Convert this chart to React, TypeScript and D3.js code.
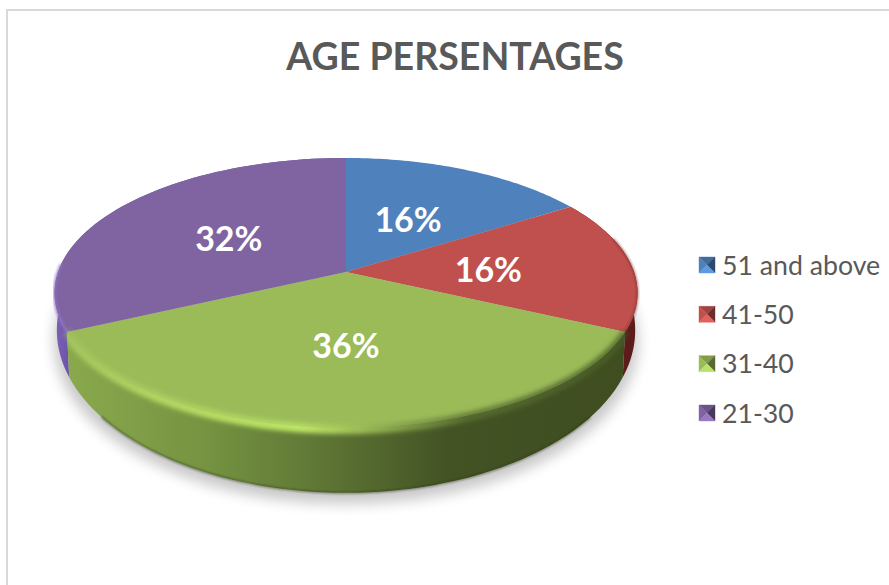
import React from 'react';
import * as d3 from 'd3';

const categories = ['51 and above', '41-50', '31-40', '21-30'];
const values = [16, 16, 36, 32];
const faceColors = ['#4f81bd', '#c0504d', '#9bbb59', '#8064a2'];
const sideLight = ['#4f81bd', '#8f3030', '#8aa94d', '#7c62b6'];
const sideDark = ['#2c4d75', '#5c1c1c', '#3f4d20', '#6a52a8'];
const labelShare = [0.508, 0.5, 0.47, 0.522];
const labelNudge = [11.6, 14, 13, 13];

const width = 889;
const height = 585;
const cx = 346;
const cy = 272;
const R = 288;
const S = 131.7;
const k = 0.155;

// circle seen in perspective, front edge is closer so it gets bigger
const project = (a: number): [number, number] => {
  const u = Math.sin(a);
  const v = -Math.cos(a);
  const w = 1 - k * v;
  return [cx + (R * u) / w, cy + (S * v) / w];
};

// lower rim of the disc
const projectLow = (a: number): [number, number] => {
  const [x, y] = project(a);
  const v = (y - cy) / S;
  return [cx + (x - cx) * 0.992, y + 33 + 27 * v];
};

const slices = d3.pie<number>().sort(null).value(d => d)(values);
const line = d3.line();

const arcPoints = (a0: number, a1: number, fn: (a: number) => [number, number]) =>
  d3.range(0, 61).map(i => fn(a0 + ((a1 - a0) * i) / 60));

const facePath = (a0: number, a1: number) =>
  line([[cx, cy], ...arcPoints(a0, a1, project)]) + 'Z';

const sidePath = (a0: number, a1: number) =>
  line([...arcPoints(a0, a1, project), ...arcPoints(a1, a0, projectLow)]) + 'Z';

const legendY = d3.scalePoint<string>().domain(categories).range([265, 413]);

const App = () => {
  const [green, red, purple] = [slices[2], slices[1], slices[3]];
  return (
    <svg
      width={width}
      height={height}
      style={{ position: 'absolute', left: 0, top: 0, background: '#fff' }}
      fontFamily="Lato, 'Open Sans', sans-serif"
    >
      <defs>
        <filter id="shadow" x="-20%" y="-20%" width="140%" height="140%">
          <feGaussianBlur stdDeviation="7" />
        </filter>
        <filter id="soft" x="-10%" y="-10%" width="120%" height="120%">
          <feGaussianBlur stdDeviation="2.5" />
        </filter>
        <filter id="thin" x="-10%" y="-10%" width="120%" height="120%">
          <feGaussianBlur stdDeviation="0.8" />
        </filter>
        <linearGradient id="greenSide" gradientUnits="userSpaceOnUse" x1="68" x2="625" y1="0" y2="0">
          <stop offset="0" stopColor={sideLight[2]} />
          <stop offset="0.25" stopColor="#759341" />
          <stop offset="0.45" stopColor="#5f7735" />
          <stop offset="0.68" stopColor="#435324" />
          <stop offset="1" stopColor={sideDark[2]} />
        </linearGradient>
        <linearGradient id="rimLight" gradientUnits="userSpaceOnUse" x1="68" x2="625" y1="0" y2="0">
          <stop offset="0" stopColor="#a3c45e" />
          <stop offset="0.15" stopColor="#b0d361" />
          <stop offset="0.42" stopColor="#bde566" />
          <stop offset="0.56" stopColor="#8fae50" />
          <stop offset="0.72" stopColor="#55692f" />
          <stop offset="1" stopColor="#465926" />
        </linearGradient>
        <linearGradient id="purpleSide" gradientUnits="userSpaceOnUse" x1="55" x2="70" y1="0" y2="0">
          <stop offset="0" stopColor={sideLight[3]} />
          <stop offset="1" stopColor={sideDark[3]} />
        </linearGradient>
        <clipPath id="greenClip">
          <path d={sidePath(green.startAngle, green.endAngle)} />
        </clipPath>
      </defs>

      <rect x={7} y={10} width={width + 10} height={height + 10} fill="#fff" stroke="#d9d9d9" strokeWidth={2} />

      <text x={455} y={70} textAnchor="middle" fontSize={37.5} fontWeight={700} fill="#595959">
        AGE PERSENTAGES
      </text>

      {/* soft shadow below the disc */}
      <path
        d={line(arcPoints(0, 2 * Math.PI, projectLow).map(([x, y]) => [x + (x - cx) * 0.01, y + 11])) + 'Z'}
        fill="#000"
        opacity={0.22}
        filter="url(#shadow)"
      />

      {/* sides */}
      <path d={sidePath(purple.startAngle, purple.endAngle)} fill="url(#purpleSide)" />
      <path d={sidePath(red.startAngle, red.endAngle)} fill={sideDark[1]} />
      <path d={sidePath(green.startAngle, green.endAngle)} fill="url(#greenSide)" />

      {/* dark lower edge of the side */}
      <path
        d={line(arcPoints(green.startAngle + 0.25, green.endAngle - 0.25, projectLow))!}
        fill="none"
        stroke="#2c3816"
        strokeWidth={1.5}
        opacity={0.7}
        filter="url(#thin)"
      />

      {/* bevel highlight along the front rim */}
      <g clipPath="url(#greenClip)">
        <path
          d={line(arcPoints(green.startAngle, green.endAngle, project))!}
          fill="none"
          stroke="url(#rimLight)"
          strokeWidth={12}
          filter="url(#soft)"
        />
      </g>

      {/* top faces */}
      {slices.map((s, i) => (
        <path key={categories[i]} d={facePath(s.startAngle, s.endAngle)} fill={faceColors[i]} />
      ))}

      {/* bevel on the face edge, fades into the face */}
      <path
        d={line(arcPoints(green.startAngle, green.endAngle, project))!}
        fill="none"
        stroke="url(#rimLight)"
        strokeWidth={6}
        opacity={0.85}
        filter="url(#soft)"
      />
      <path
        d={line(arcPoints(red.startAngle + 0.3, red.endAngle, project))!}
        fill="none"
        stroke="#7a2626"
        strokeWidth={2}
        opacity={0.6}
        filter="url(#thin)"
      />
      <path
        d={line(arcPoints(purple.startAngle, purple.startAngle + 0.5, project))!}
        fill="none"
        stroke="#8f74c4"
        strokeWidth={3}
        opacity={0.7}
        filter="url(#thin)"
      />

      {/* data labels */}
      {slices.map((s, i) => {
        const mid = (s.startAngle + s.endAngle) / 2;
        const [x, y] = project(mid);
        return (
          <text
            key={categories[i]}
            x={cx + (x - cx) * labelShare[i]}
            y={cy + (y - cy) * labelShare[i] + labelNudge[i]}
            textAnchor="middle"
            fontSize={34}
            fontWeight={700}
            fill="#fff"
          >
            {values[i]}%
          </text>
        );
      })}

      {/* legend */}
      {categories.map((c, i) => {
        const y = legendY(c)!;
        const x0 = 699;
        const x1 = 715;
        const y0 = y - 8;
        const y1 = y + 8;
        const base = d3.color(faceColors[i])!;
        const sides = [
          { pts: `${x0},${y0} ${x1},${y0} ${(x0 + x1) / 2},${y}`, fill: base.darker(0.5).toString() },
          { pts: `${x0},${y0} ${x0},${y1} ${(x0 + x1) / 2},${y}`, fill: base.toString() },
          { pts: `${x1},${y0} ${x1},${y1} ${(x0 + x1) / 2},${y}`, fill: base.darker(1.6).toString() },
          { pts: `${x0},${y1} ${x1},${y1} ${(x0 + x1) / 2},${y}`, fill: base.brighter(0.5).toString() },
        ];
        return (
          <g key={c}>
            {sides.map(p => (
              <polygon key={p.pts} points={p.pts} fill={p.fill} stroke={p.fill} strokeWidth={0.4} />
            ))}
            <text x={722} y={y + 9.5} fontSize={26.7} fill="#595959">
              {c}
            </text>
          </g>
        );
      })}
    </svg>
  );
};

export default App;
